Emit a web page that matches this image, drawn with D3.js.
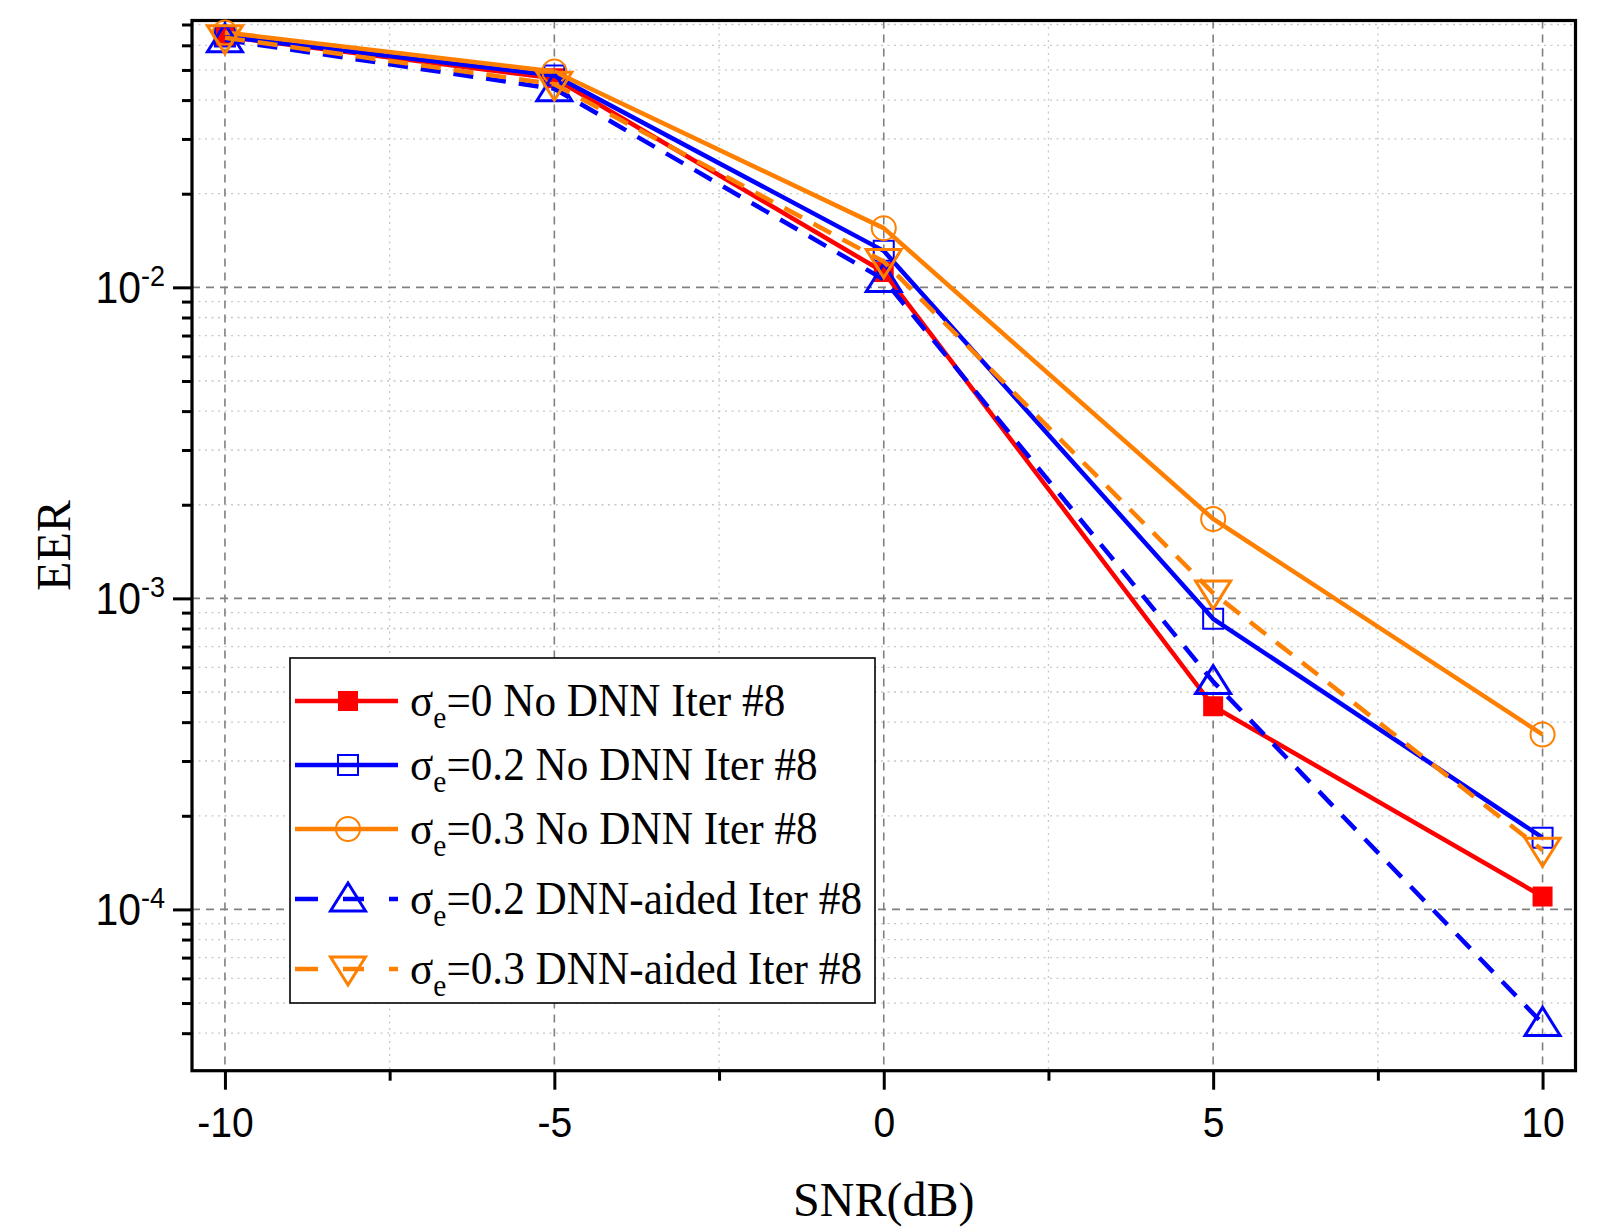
<!DOCTYPE html>
<html><head><meta charset="utf-8">
<script src="https://cdn.jsdelivr.net/npm/d3@7"></script>
<style>body{margin:0;background:#fff}svg{display:block}</style>
</head><body>
<svg id="c" width="1609" height="1232"></svg>
<script>
const snr = [-10, -5, 0, 5, 10];
const eerS0NoDnn   = [0.064, 0.047, 0.0112, 4.5e-4, 1.1e-4];
const eerS02NoDnn  = [0.064, 0.048, 0.0131, 8.6e-4, 1.7e-4];
const eerS03NoDnn  = [0.066, 0.0494, 0.0155, 1.8e-3, 3.65e-4];
const eerS02Dnn    = [0.0625, 0.0435, 0.0106, 5.4e-4, 4.3e-5];
const eerS03Dnn    = [0.0635, 0.045, 0.0121, 1.04e-3, 1.55e-4];
const seriesNames = ["=0 No DNN Iter #8", "=0.2 No DNN Iter #8", "=0.3 No DNN Iter #8", "=0.2 DNN-aided Iter #8", "=0.3 DNN-aided Iter #8"];
const xMajorTicks = [-10, -5, 0, 5, 10];
const xMinorTicks = [-7.5, -2.5, 2.5, 7.5];
const yMajorTicks = [1e-2, 1e-3, 1e-4];
const yMajorLabels = ["-2", "-3", "-4"];

const RED = "#ff0000", BLUE = "#0000ff", ORANGE = "#ff8000";
const series = [
  {vals: eerS0NoDnn, color: RED, dash: null, marker: "fsquare"},
  {vals: eerS02NoDnn, color: BLUE, dash: null, marker: "square"},
  {vals: eerS03NoDnn, color: ORANGE, dash: null, marker: "circle"},
  {vals: eerS02Dnn, color: BLUE, dash: "20,13", marker: "tri"},
  {vals: eerS03Dnn, color: ORANGE, dash: "20,13", marker: "itri"},
];

const svg = d3.select("#c");
const L = 192, R = 1575.5, T = 20.5, B = 1070.7;
const x = d3.scaleLinear().domain([-10.5, 10.5]).range([L, R]);
const y = d3.scaleLog().domain([3.03e-5, 0.0721]).range([B, T]);

const yMinor = [];
for (const dec of [1e-5, 1e-4, 1e-3, 1e-2]) for (let k = 2; k <= 9; k++) {
  const v = k * dec; if (v > 3.04e-5 && v < 0.072) yMinor.push(v);
}

const grid = svg.append("g");
grid.selectAll(".gym").data(yMinor).join("line")
  .attr("x1", L).attr("x2", R).attr("y1", d => y(d)).attr("y2", d => y(d))
  .attr("stroke", "#c8c8c8").attr("stroke-width", 1.3).attr("stroke-dasharray", "2,4.5");
grid.selectAll(".gxm").data(xMinorTicks).join("line")
  .attr("y1", T).attr("y2", B).attr("x1", d => x(d)).attr("x2", d => x(d))
  .attr("stroke", "#c8c8c8").attr("stroke-width", 1.3).attr("stroke-dasharray", "2,4.5");
grid.selectAll(".gyM").data(yMajorTicks).join("line")
  .attr("x1", L).attr("x2", R).attr("y1", d => y(d)).attr("y2", d => y(d))
  .attr("stroke", "#808080").attr("stroke-width", 1.6).attr("stroke-dasharray", "8,6");
grid.selectAll(".gxM").data(xMajorTicks).join("line")
  .attr("y1", T).attr("y2", B).attr("x1", d => x(d)).attr("x2", d => x(d))
  .attr("stroke", "#808080").attr("stroke-width", 1.6).attr("stroke-dasharray", "8,6");

const ax = svg.append("g");
const gx = ax.append("g").attr("transform", `translate(0,${B})`)
  .call(d3.axisBottom(x).tickValues(xMajorTicks).tickSize(19).tickFormat(d => String(d)));
gx.select(".domain").remove();
gx.selectAll(".tick line").attr("stroke", "#000").attr("stroke-width", 3);
gx.selectAll(".tick text").attr("font-family", "'Liberation Sans', Arial, sans-serif").attr("font-size", 42).attr("fill", "#000")
  .attr("dy", null).attr("y", 66).attr("transform", "scale(0.93,1)");
const gxm = ax.append("g").attr("transform", `translate(0,${B})`).call(d3.axisBottom(x).tickValues(xMinorTicks).tickSize(10).tickFormat(""));
gxm.select(".domain").remove();
gxm.selectAll(".tick line").attr("stroke", "#000").attr("stroke-width", 3);

const gy = ax.append("g").attr("transform", `translate(${L},0)`).call(d3.axisLeft(y).tickValues(yMajorTicks).tickSize(19).tickFormat(""));
gy.select(".domain").remove();
gy.selectAll(".tick line").attr("stroke", "#000").attr("stroke-width", 3);
const gym = ax.append("g").attr("transform", `translate(${L},0)`).call(d3.axisLeft(y).tickValues(yMinor).tickSize(10).tickFormat(""));
gym.select(".domain").remove();
gym.selectAll(".tick line").attr("stroke", "#000").attr("stroke-width", 3);

yMajorTicks.forEach((v, i) => {
  const t = svg.append("text")
    .attr("transform", `translate(165,${y(v) + 16}) scale(0.93,1)`).attr("text-anchor", "end")
    .attr("font-family", "'Liberation Sans', Arial, sans-serif").attr("font-size", 44).attr("fill", "#000");
  t.append("tspan").text("10");
  t.append("tspan").attr("font-size", 29).attr("dy", -17).text(yMajorLabels[i]);
});

svg.append("rect").attr("x", L).attr("y", T).attr("width", R - L).attr("height", B - T)
  .attr("fill", "none").attr("stroke", "#000").attr("stroke-width", 3.2);

svg.append("text").attr("x", x(0)).attr("y", 1216).attr("text-anchor", "middle")
  .attr("font-family", "'Liberation Serif', 'Times New Roman', serif").attr("font-size", 48).attr("fill", "#000").text("SNR(dB)");
svg.append("text").attr("transform", `translate(70,${(T + B) / 2}) rotate(-90)`).attr("text-anchor", "middle")
  .attr("font-family", "'Liberation Serif', 'Times New Roman', serif").attr("font-size", 48).attr("fill", "#000").text("EER");

function markerPath(type) {
  if (type === "fsquare" || type === "square") { const s = 10; return `M${-s},${-s}H${s}V${s}H${-s}Z`; }
  if (type === "circle") { const r = 12; return `M${r},0A${r},${r} 0 1,1 ${-r},0A${r},${r} 0 1,1 ${r},0Z`; }
  if (type === "tri") { const w = 17.5, h = 14; return `M0,${-h - 2}L${w},${h - 2}L${-w},${h - 2}Z`; }
  if (type === "itri") { const w = 17.5, h = 14; return `M0,${h + 2}L${w},${-h + 2}L${-w},${-h + 2}Z`; }
}
function drawMarker(g, type, color, cx, cy) {
  const p = g.append("path").attr("d", markerPath(type)).attr("transform", `translate(${cx},${cy})`);
  if (type === "fsquare") p.attr("fill", color).attr("stroke", "none");
  else p.attr("fill", "none").attr("stroke", color)
        .attr("stroke-width", (type === "tri" || type === "itri") ? 3 : 2);
}

const line = d3.line().x(d => x(d[0])).y(d => y(d[1]));
const plot = svg.append("g");
series.forEach(s => {
  const pts = snr.map((v, i) => [v, s.vals[i]]);
  const p = plot.append("path").attr("d", line(pts)).attr("fill", "none").attr("stroke", s.color)
    .attr("stroke-width", 4.5).attr("stroke-linejoin", "round");
  if (s.dash) p.attr("stroke-dasharray", s.dash);
  pts.forEach(d => drawMarker(plot, s.marker, s.color, x(d[0]), y(d[1])));
});

const lg = svg.append("g");
lg.append("rect").attr("x", 290).attr("y", 658).attr("width", 585).attr("height", 345)
  .attr("fill", "#fff").attr("stroke", "#000").attr("stroke-width", 1.6);
const rowY = [701, 765, 829, 899, 969];
series.forEach((s, i) => {
  const yy = rowY[i];
  const l = lg.append("line").attr("x1", 295).attr("x2", 398).attr("y1", yy).attr("y2", yy)
    .attr("stroke", s.color).attr("stroke-width", 4.5);
  if (s.dash) l.attr("stroke-dasharray", "23,25,21,25,9,100");
  drawMarker(lg, s.marker, s.color, 348, yy);
  const t = lg.append("text").attr("transform", `translate(410,${yy + 15}) scale(0.92,1)`)
    .attr("font-family", "'Liberation Serif', 'Times New Roman', serif").attr("font-size", 47).attr("fill", "#000");
  t.append("tspan").text("σ");
  t.append("tspan").attr("font-size", 32).attr("dy", 12).text("e");
  t.append("tspan").attr("dy", -12).text(seriesNames[i]);
});
</script>
</body></html>
